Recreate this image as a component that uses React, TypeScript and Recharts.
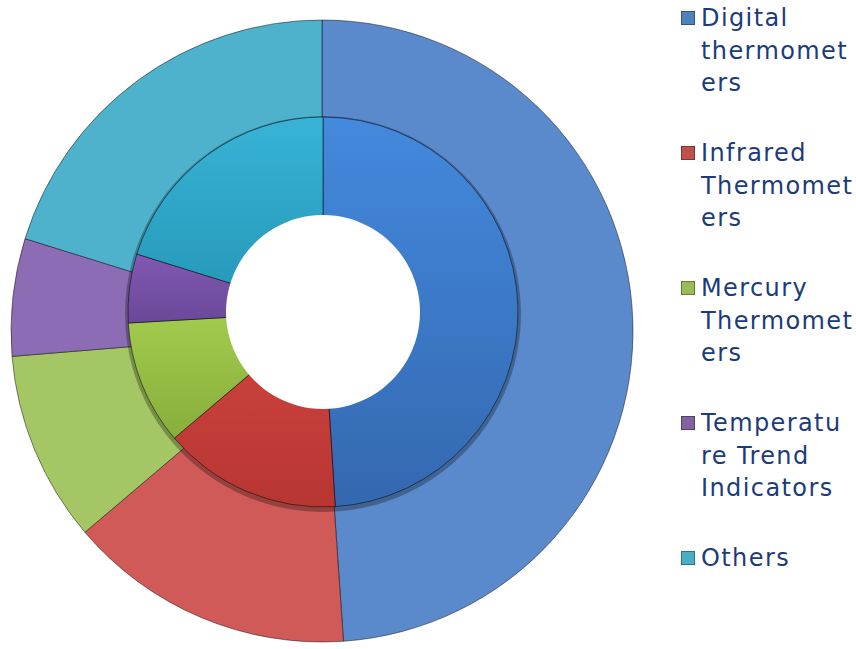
import { Cell, Legend, Pie, PieChart } from "recharts";

const categories = [
  "Digital thermometers",
  "Infrared Thermometers",
  "Mercury Thermometers",
  "Temperature Trend Indicators",
  "Others",
];

// legend labels wrap the way the original does
const legendLines = [
  ["Digital", "thermomet", "ers"],
  ["Infrared", "Thermomet", "ers"],
  ["Mercury", "Thermomet", "ers"],
  ["Temperatu", "re Trend", "Indicators"],
  ["Others"],
];

const innerValues = [49.0, 14.8, 10.3, 5.7, 20.2];
const outerValues = [48.9, 14.9, 9.9, 6.1, 20.2];

const baseColors = ["#4F81BD", "#C0504D", "#9BBB59", "#8064A2", "#4BACC6"];
const innerTop = ["#4389DD", "#D2453F", "#A2CC4E", "#8258B2", "#38B3D6"];
const innerBottom = ["#3468B0", "#B73632", "#88AE3C", "#6A4898", "#2496B6"];
const outerColors = ["#5A8ACB", "#D05A57", "#A4C664", "#8C6CB4", "#4FB2CD"];

const innerData = categories.map((name, i) => ({ name, value: innerValues[i] }));
const outerData = categories.map((name, i) => ({ name, value: outerValues[i] }));
const ringShadow = [{ name: "shadow", value: 1 }];

const LegendBox = () => (
  <div
    style={{
      fontFamily: "'DejaVu Sans', Verdana, sans-serif",
      fontSize: 24,
      letterSpacing: 1.4,
      color: "#1B3B7A",
    }}
  >
    {legendLines.map((lines, i) => (
      <div key={i} style={{ display: "flex", alignItems: "flex-start", marginBottom: 37.5 }}>
        <div
          style={{
            width: 14,
            height: 14,
            marginTop: 9,
            marginRight: 6,
            background: baseColors[i],
            border: "1px solid rgba(0,0,0,0.35)",
            boxSizing: "border-box",
            flexShrink: 0,
          }}
        />
        <div style={{ lineHeight: "32.5px", whiteSpace: "nowrap" }}>
          {lines.map((l, j) => (
            <div key={j}>{l}</div>
          ))}
        </div>
      </div>
    ))}
  </div>
);

export default function App() {
  return (
    <div style={{ position: "absolute", left: 0, top: 0, width: 856, height: 649, background: "#fff" }}>
      <PieChart width={856} height={649} margin={{ top: 0, right: 0, bottom: 0, left: 0 }}>
        <defs>
          {categories.map((_, i) => (
            <linearGradient key={`g-${i}`} id={`inner-${i}`} x1="0" y1="0" x2="0" y2="1">
              <stop offset="0%" stopColor={innerTop[i]} />
              <stop offset="100%" stopColor={innerBottom[i]} />
            </linearGradient>
          ))}
        </defs>
        {/* outer ring: full pie, the inner donut sits on top of it */}
        <Pie
          data={outerData}
          dataKey="value"
          nameKey="name"
          cx={322}
          cy={331}
          innerRadius={0}
          outerRadius={311}
          startAngle={90}
          endAngle={-270}
          stroke="rgba(0,0,0,0.45)"
          strokeWidth={1}
          isAnimationActive={false}
        >
          {outerData.map((_, i) => (
            <Cell key={`out-${i}`} fill={outerColors[i]} />
          ))}
        </Pie>
        {/* soft shadow under the raised inner ring */}
        <Pie
          data={ringShadow}
          dataKey="value"
          cx={323}
          cy={314}
          innerRadius={0}
          outerRadius={198}
          fill="rgba(0,0,0,0.28)"
          stroke="none"
          legendType="none"
          isAnimationActive={false}
        />
        <Pie
          data={innerData}
          dataKey="value"
          nameKey="name"
          cx={323}
          cy={312}
          innerRadius={0}
          outerRadius={195}
          startAngle={90}
          endAngle={-270}
          stroke="rgba(0,0,0,0.5)"
          strokeWidth={1}
          isAnimationActive={false}
        >
          {innerData.map((_, i) => (
            <Cell key={`in-${i}`} fill={`url(#inner-${i})`} />
          ))}
        </Pie>
        {/* the hole */}
        <Pie
          data={ringShadow}
          dataKey="value"
          cx={323}
          cy={312}
          innerRadius={0}
          outerRadius={97}
          fill="#ffffff"
          stroke="none"
          legendType="none"
          isAnimationActive={false}
        />
        <Legend
          layout="vertical"
          align="right"
          verticalAlign="top"
          content={() => <LegendBox />}
          wrapperStyle={{ position: "absolute", left: 681, top: 2, width: 175 }}
        />
      </PieChart>
    </div>
  );
}
